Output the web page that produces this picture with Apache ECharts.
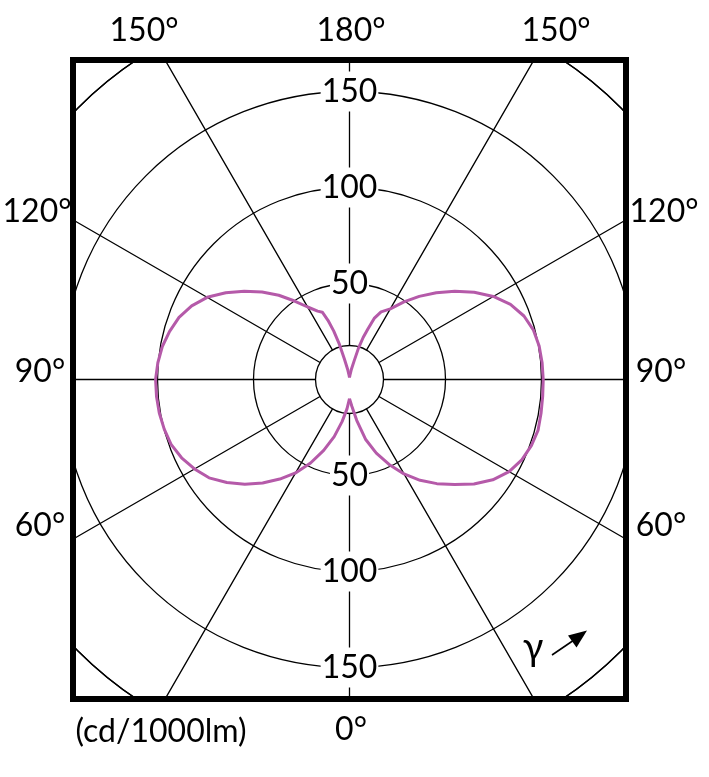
<!DOCTYPE html>
<html>
<head>
<meta charset="utf-8">
<script src="https://cdn.jsdelivr.net/npm/echarts@6/dist/echarts.min.js"></script>
<style>
  html, body { margin: 0; padding: 0; background: #fff; }
  #chart { width: 709px; height: 777px; }
</style>
</head>
<body>
<div id="chart"></div>
<script>
// vertical angle gamma in degrees, 0 = straight down, 180 = straight up
const gamma = [0, 5, 10, 15, 20, 25, 30, 35, 40, 45, 50, 55, 60, 65, 70, 75, 80, 85, 90,
  95, 100, 105, 110, 115, 120, 125, 130, 135, 140, 145, 150, 155, 158, 160, 162, 164, 166, 170, 175, 180];
// cd/1000lm, left half of the diagram
const leftValues = [10, 15.5, 22.3, 30.8, 39.3, 48, 56.2, 63.3, 70.4, 77.1, 83.4, 89.3, 93.2, 96.5, 98.9, 99.9, 100.6, 100.9, 101,
  100.2, 99, 97, 94.5, 90.7, 85.6, 78.7, 71.6, 64.4, 57.3, 49.9, 43.6, 39.3, 37.8, 32.8, 26.5, 19, 11, 5, 2, 1];
// cd/1000lm, right half of the diagram
const rightValues = [10, 14, 21.6, 32.2, 40.8, 48.8, 56.8, 64.1, 70.8, 77.4, 84.6, 91.1, 96, 99, 100.8, 101.7, 101.3, 101, 100.9,
  100.7, 100.3, 99.2, 96.7, 92.5, 86.5, 79.3, 71.6, 63.9, 56.5, 49.4, 42.5, 38.9, 34.3, 28, 23, 17, 10, 5, 2, 1];

const radiusTicks = [50, 100, 150];
const unitLabel = '(cd/1000lm)';

const chart = echarts.init(document.getElementById('chart'));

const cx = 349.5, cy = 379.5;
const R = 384;        // pixel radius of value 200
const R0 = 34;        // hub circle where the radial lines start
const FONT = 'Lato, "Noto Sans", sans-serif';
const FS = 32;
const lineColor = '#b55aa9';
const grid = { color: '#000', width: 1.3 };

// frame
const box = { x: 73, y: 60, w: 553, h: 639 };

function text(str, x, y, size) {
  return {
    type: 'text', x: x, y: y, z: 102,
    style: { text: str, fontSize: size || FS, fontFamily: FONT, fill: '#000', align: 'center', verticalAlign: 'middle' }
  };
}

const angleLabels = [
  { t: '180°', x: 351, y: 31 },
  { t: '150°', x: 144, y: 31 },
  { t: '150°', x: 556, y: 31 },
  { t: '120°', x: 37, y: 212 },
  { t: '120°', x: 664, y: 212 },
  { t: '90°', x: 40, y: 372 },
  { t: '90°', x: 661, y: 372 },
  { t: '60°', x: 40, y: 526 },
  { t: '60°', x: 661, y: 526 },
  { t: '0°', x: 351, y: 730 }
];

const graphics = [
  // white masks so the grid is clipped to the frame
  { type: 'rect', z: 100, shape: { x: 0, y: 0, width: 709, height: box.y }, style: { fill: '#fff' } },
  { type: 'rect', z: 100, shape: { x: 0, y: box.y + box.h, width: 709, height: 777 - box.y - box.h }, style: { fill: '#fff' } },
  { type: 'rect', z: 100, shape: { x: 0, y: 0, width: box.x, height: 777 }, style: { fill: '#fff' } },
  { type: 'rect', z: 100, shape: { x: box.x + box.w, y: 0, width: 709 - box.x - box.w, height: 777 }, style: { fill: '#fff' } },
  { type: 'rect', z: 101, shape: { x: box.x, y: box.y, width: box.w, height: box.h }, style: { fill: 'none', stroke: '#000', lineWidth: 6 } },
  text(unitLabel, 161, 732),
  text('γ', 533, 648, 38),
  { type: 'line', z: 102, shape: { x1: 552, y1: 655, x2: 574, y2: 640 }, style: { stroke: '#000', lineWidth: 1.6 } },
  { type: 'polygon', z: 102, shape: { points: [[587, 630.5], [568, 635.5], [576.5, 647.5]] }, style: { fill: '#000' } }
];
angleLabels.forEach(function (l) { graphics.push(text(l.t, l.x, l.y)); });

const hidden = { show: false };

chart.setOption({
  animation: false,
  polar: [
    { center: [cx, cy], radius: [0, R] },
    { center: [cx, cy], radius: [R0, R] }
  ],
  angleAxis: [
    { polarIndex: 0, type: 'value', min: 0, max: 360, startAngle: -90, clockwise: true,
      axisLine: hidden, axisTick: hidden, axisLabel: hidden, splitLine: hidden },
    { polarIndex: 1, type: 'value', min: 0, max: 360, interval: 30, startAngle: -90, clockwise: true,
      axisLine: hidden, axisTick: hidden, axisLabel: hidden,
      splitLine: { show: true, lineStyle: grid } }
  ],
  radiusAxis: [
    { polarIndex: 0, type: 'value', min: 0, max: 200, interval: 50,
      axisLine: hidden, axisTick: hidden, axisLabel: hidden,
      splitLine: { show: true, lineStyle: grid } },
    { polarIndex: 1, type: 'value', min: 0, max: 1, interval: 1,
      axisLine: hidden, axisTick: hidden, axisLabel: hidden,
      splitLine: { show: true, lineStyle: grid } }
  ],
  series: [
    {
      type: 'line', coordinateSystem: 'polar', polarIndex: 0,
      data: gamma.map(function (g, i) { return [leftValues[i], g]; }),
      showSymbol: false, symbol: 'none', smooth: false, clip: false,
      lineStyle: { color: lineColor, width: 3 }, z: 5
    },
    {
      type: 'line', coordinateSystem: 'polar', polarIndex: 0,
      data: gamma.map(function (g, i) { return [rightValues[i], 360 - g]; }),
      showSymbol: false, symbol: 'none', smooth: false, clip: false,
      lineStyle: { color: lineColor, width: 3 }, z: 5
    },
    {
      // tick values along the vertical axis, above and below the centre
      type: 'scatter', coordinateSystem: 'polar', polarIndex: 0,
      symbolSize: 0, itemStyle: { color: '#000', opacity: 1 }, silent: true, z: 4,
      data: radiusTicks.map(function (r) { return [r, 180]; }).concat(radiusTicks.map(function (r) { return [r, 0]; })),
      label: {
        show: true, position: 'inside', color: '#000', opacity: 1, fontSize: FS, fontFamily: FONT,
        textBorderWidth: 0, backgroundColor: '#fff', padding: [4, 1],
        formatter: function (p) { return String(p.value[0]); }
      }
    }
  ],
  graphic: graphics
});
</script>
</body>
</html>
